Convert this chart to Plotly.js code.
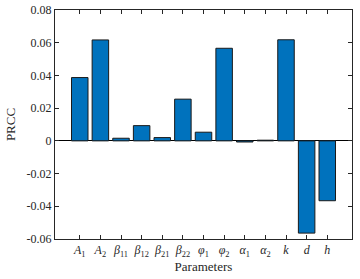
<!DOCTYPE html>
<html><head><meta charset="utf-8">
<script src="https://cdn.plot.ly/plotly-3.0.1.min.js"></script>
<style>body{margin:0;background:#fff}#chart{width:360px;height:279px}</style>
</head><body><div id="chart"></div>
<script>
const categories = ['<i>A</i><sub>1</sub>','<i>A</i><sub>2</sub>','<i>β</i><sub>11</sub>','<i>β</i><sub>12</sub>','<i>β</i><sub>21</sub>','<i>β</i><sub>22</sub>','<i>φ</i><sub>1</sub>','<i>φ</i><sub>2</sub>','<i>α</i><sub>1</sub>','<i>α</i><sub>2</sub>','<i>k</i>','<i>d</i>','<i>h</i>'];
const prcc = [0.0387, 0.0617, 0.0016, 0.0093, 0.0020, 0.0255, 0.0053, 0.0566, -0.0007, 0.0004, 0.0618, -0.0564, -0.0366];
const yTickVals = [-0.06,-0.04,-0.02,0,0.02,0.04,0.06,0.08];
const yTickText = ['-0.06','-0.04','-0.02','0','0.02','0.04','0.06','0.08'];
const idx = categories.map((c,i)=>i);
const font = 'Liberation Serif, DejaVu Serif, serif';
Plotly.newPlot('chart', [{
  type:'bar', x: idx, y: prcc, width: 0.8,
  marker:{color:'#0072BD', line:{color:'#1a1a1a', width:1}}
}], {
  width:360, height:279,
  margin:{l:55, r:8, t:10, b:40},
  paper_bgcolor:'#fff', plot_bgcolor:'#fff',
  showlegend:false,
  font:{family:font, color:'#262626'},
  xaxis:{range:[-1.2, 13.2], tickvals: idx, ticktext: categories,
    ticks:'inside', ticklen:4, tickcolor:'#262626', showline:true, linecolor:'#262626', linewidth:1,
    mirror:'ticks', showgrid:false, zeroline:false, tickfont:{size:12, color:'#262626'},
    title:{text:'Parameters', font:{size:13}, standoff:1}},
  yaxis:{range:[-0.06,0.08], tickvals:yTickVals, ticktext:yTickText,
    ticks:'inside', ticklen:4, tickcolor:'#262626', showline:true, linecolor:'#262626', linewidth:1,
    mirror:'ticks', showgrid:false, zeroline:true, zerolinecolor:'#000', zerolinewidth:1,
    tickfont:{size:12, color:'#262626'},
    title:{text:'PRCC', font:{size:13}, standoff:8}}
}, {staticPlot:true, displayModeBar:false});
</script></body></html>
